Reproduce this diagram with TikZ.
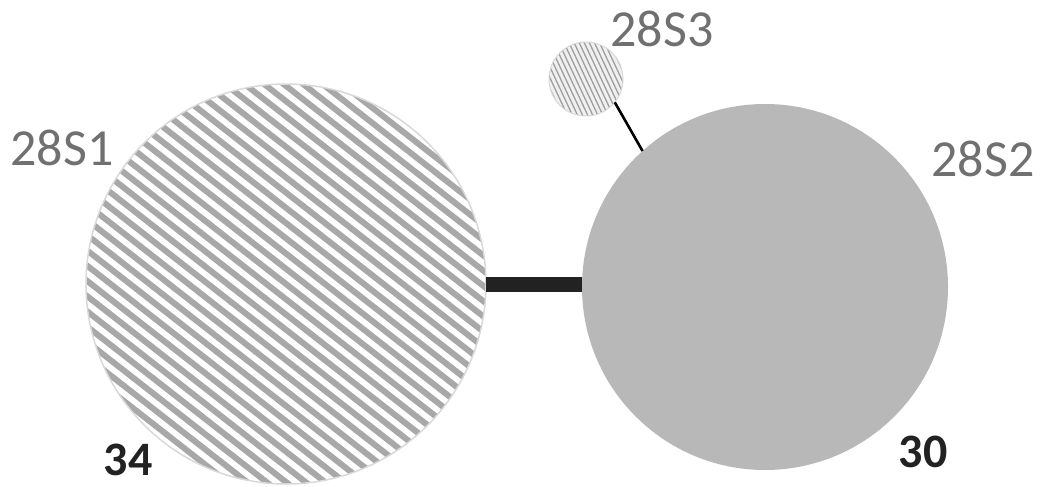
\documentclass[tikz,border=0pt]{standalone}
\usepackage{fontspec}
\setmainfont{Carlito}
\definecolor{labelgray}{HTML}{707070}
\definecolor{bargray}{HTML}{222222}
\definecolor{stripegray}{HTML}{A8A8A8}
\definecolor{fillgray}{HTML}{B8B8B8}
\begin{document}
\begin{tikzpicture}[x=1pt,y=-1pt,
  ring/.style={circle, inner sep=0pt, outer sep=0pt},
  namelabel/.style={text=labelgray, font=\fontsize{52}{60}\selectfont, inner sep=0pt},
  numlabel/.style={text=bargray, font=\bfseries\fontsize{48}{54}\selectfont, inner sep=0pt},
  stripe/.style={draw=stripegray, line width=6pt},
  finestripe/.style={draw=gray!75, line width=1.3pt}]
\useasboundingbox (0,0) rectangle (1042,487);
% left striped circle
\node[ring, minimum size=400pt, draw=gray!30, line width=1.5pt,
  path picture={
    \foreach \k in {-20,...,20}{
      \draw[stripe] ([shift={({-0.616*\k*12-0.788*320},{0.788*\k*12-0.616*320})}]path picture bounding box.center)
        -- ([shift={({-0.616*\k*12+0.788*320},{0.788*\k*12+0.616*320})}]path picture bounding box.center);
    }
  }] (s1) at (286,284) {};
% right grey circle
\node[ring, minimum size=366pt, fill=fillgray] (s2) at (765,287) {};
% small circle
\node[ring, minimum size=74pt, fill=gray!12, draw=gray!30, line width=1pt,
  path picture={
    \foreach \k in {-14,...,14}{
      \draw[finestripe] ([shift={({-0.906*\k*4.6-0.423*60},{0.423*\k*4.6-0.906*60})}]path picture bounding box.center)
        -- ([shift={({-0.906*\k*4.6+0.423*60},{0.423*\k*4.6+0.906*60})}]path picture bounding box.center);
    }
  }] (s3) at (586,79) {};
% connectors
\draw[bargray, line width=15pt] (s1.east) -- (s1.east -| s2.west);
\draw[black, line width=2.6pt] (s3.-39) -- (s2.132);
% labels
\node[namelabel] (l1) at (62,148) {28S1};
\node[namelabel] (l2) at (983,159) {28S2};
\node[namelabel] (l3) at (662,29) {28S3};
\node[numlabel] (n1) at (128,460) {34};
\node[numlabel] (n2) at (923,452) {30};
\end{tikzpicture}
\end{document}
